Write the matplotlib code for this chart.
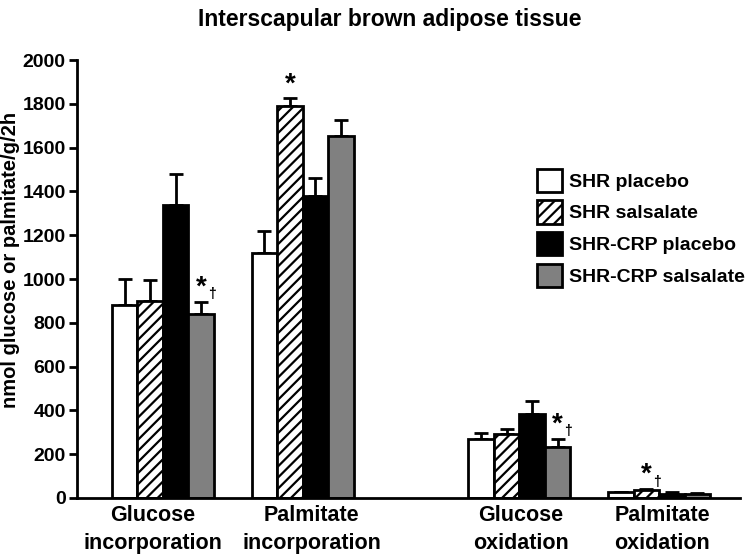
import numpy as np
import matplotlib.pyplot as plt
from matplotlib.patches import Patch

plt.rcParams['font.family'] = 'Liberation Sans'
plt.rcParams['font.weight'] = 'bold'
plt.rcParams['hatch.linewidth'] = 1.6

groups = ['Glucose\nincorporation', 'Palmitate\nincorporation', 'Glucose\noxidation', 'Palmitate\noxidation']
series = ['SHR placebo', 'SHR salsalate', 'SHR-CRP placebo', 'SHR-CRP salsalate']
shr_placebo = [880, 1120, 268, 25]
shr_salsalate = [898, 1790, 290, 35]
crp_placebo = [1340, 1380, 385, 18]
crp_salsalate = [840, 1653, 232, 18]
err_shr_placebo = [120, 100, 28, 4]
err_shr_salsalate = [97, 35, 25, 5]
err_crp_placebo = [140, 80, 60, 8]
err_crp_salsalate = [55, 75, 37, 3]
# significance marks: (group, series, star, dagger)
marks = [(0, 3, '*', '\u2020'), (1, 1, '*', ''), (2, 3, '*', '\u2020'), (3, 1, '*', '\u2020')]

values = [shr_placebo, shr_salsalate, crp_placebo, crp_salsalate]
errors = [err_shr_placebo, err_shr_salsalate, err_crp_placebo, err_crp_salsalate]
colors = ['white', 'white', 'black', '#808080']
hatches = [None, '///', None, None]

xpos = np.array([0, 1, 2.55, 3.55])
label_shift = np.array([-0.07, 0.065, 0.01, 0.02])
w = 0.182
offsets = (np.arange(4) - 1.5) * w

fig = plt.figure(figsize=(7.47, 5.57), dpi=100)
ax = fig.add_axes([0.103, 0.106, 0.888, 0.786])

for i in range(4):
    ax.bar(xpos + offsets[i], values[i], w, color=colors[i], edgecolor='black',
           linewidth=2, hatch=hatches[i], zorder=2)
    ax.errorbar(xpos + offsets[i], values[i], yerr=[np.zeros(4), errors[i]],
                fmt='none', ecolor='black', elinewidth=2, capsize=5, capthick=2, zorder=1)

for g, s, star, dag in marks:
    top = values[s][g] + errors[s][g]
    x = xpos[g] + offsets[s]
    ax.text(x, top + 5, star, ha='center', va='bottom', fontsize=20, fontweight='bold')
    if dag:
        ax.text(x + 0.05, top + 3, dag, ha='left', va='bottom', fontsize=10, fontweight='bold')

ax.set_xlim(-0.614, 4.13)
ax.set_ylim(0, 2000)
ax.set_yticks(np.arange(0, 2001, 200))
ax.tick_params(axis='y', labelsize=14, width=2, length=6, direction='out', pad=2)
ax.set_xticks(xpos + label_shift)
ax.set_xticklabels(groups, fontsize=15.5, fontweight='bold', linespacing=1.45)
ax.tick_params(axis='x', length=0, pad=5)
for lab in ax.get_yticklabels():
    lab.set_fontweight('bold')
for sp in ['top', 'right']:
    ax.spines[sp].set_visible(False)
for sp in ['left', 'bottom']:
    ax.spines[sp].set_linewidth(2)

ax.set_ylabel('nmol glucose or palmitate/g/2h', fontsize=14.5, fontweight='bold')
ax.yaxis.set_label_coords(-0.086, 0.543)
fig.suptitle('Interscapular brown adipose tissue', fontsize=16.5, fontweight='bold', x=0.522, y=0.985)

handles = [Patch(facecolor=colors[i], edgecolor='black', linewidth=2, hatch=hatches[i]) for i in range(4)]
ax.legend(handles, series, loc='upper left', bbox_to_anchor=(0.682, 0.77), frameon=False,
          prop={'size': 14, 'weight': 'bold'}, handlelength=1.3, handleheight=1.45,
          handletextpad=0.35, labelspacing=0.45, borderaxespad=0)

fig.savefig('out.png', dpi=100)
